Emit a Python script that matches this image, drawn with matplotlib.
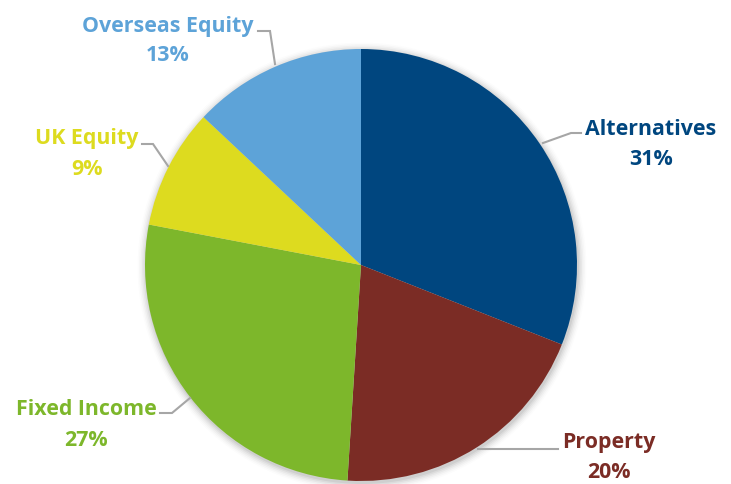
import matplotlib
matplotlib.use("Agg")
import matplotlib.pyplot as plt
from matplotlib.patches import Circle
import numpy as np

categories = ["Alternatives", "Property", "Fixed Income", "UK Equity", "Overseas Equity"]
values = [31, 20, 27, 9, 13]
colors = ["#00467F", "#7B2C25", "#7DB72B", "#DDDB1F", "#5DA3D8"]

W, H = 731, 484
fig = plt.figure(figsize=(W / 100, H / 100), dpi=100)
ax = fig.add_axes([0, 0, 1, 1])

cx, cy, r = 361, H - 265, 216

# soft shadow
for i, a in enumerate(np.linspace(0.05, 0.01, 6)):
    ax.add_patch(Circle((cx + 1, cy - 2), r + 1 + i * 1.5, color="black", alpha=a, lw=0, zorder=0))

wedges, _ = ax.pie(values, colors=colors, startangle=90, counterclock=False,
                   center=(cx, cy), radius=r, frame=True,
                   wedgeprops=dict(linewidth=0, zorder=2))
ax.set_xlim(0, W)
ax.set_ylim(0, H)
ax.set_aspect("equal")
ax.axis("off")

font = ["Open Sans", "DejaVu Sans"]
fs = 15.4
line_col = "#A6A6A6"

# label layout: (text center x, first line center y, second line center y), leader line points (image px)
layout = [
    ((651, 127, 157), [(543, 143), (571, 133), (581, 133)]),   # Alternatives
    ((609, 440, 470), [(478, 449), (558, 449)]),               # Property
    ((86, 407, 438), [(190, 398), (172, 413), (160, 413)]),    # Fixed Income
    ((87, 136, 167), [(168, 166), (153, 144), (142, 144)]),    # UK Equity
    ((168, 24, 53), [(275, 64), (270, 31), (258, 31)]),        # Overseas Equity
]

for cat, val, col, ((tx, y1, y2), pts) in zip(categories, values, colors, layout):
    xs = [p[0] for p in pts]
    ys = [H - p[1] for p in pts]
    ax.plot(xs, ys, color=line_col, lw=1.5, zorder=3, solid_joinstyle="miter")
    ax.text(tx, H - y1, cat, color=col, fontsize=fs, fontweight="bold",
            family=font, ha="center", va="center_baseline", zorder=4)
    ax.text(tx, H - y2, f"{val}%", color=col, fontsize=fs, fontweight="bold",
            family=font, ha="center", va="center_baseline", zorder=4)

fig.savefig("out.png", dpi=100)
